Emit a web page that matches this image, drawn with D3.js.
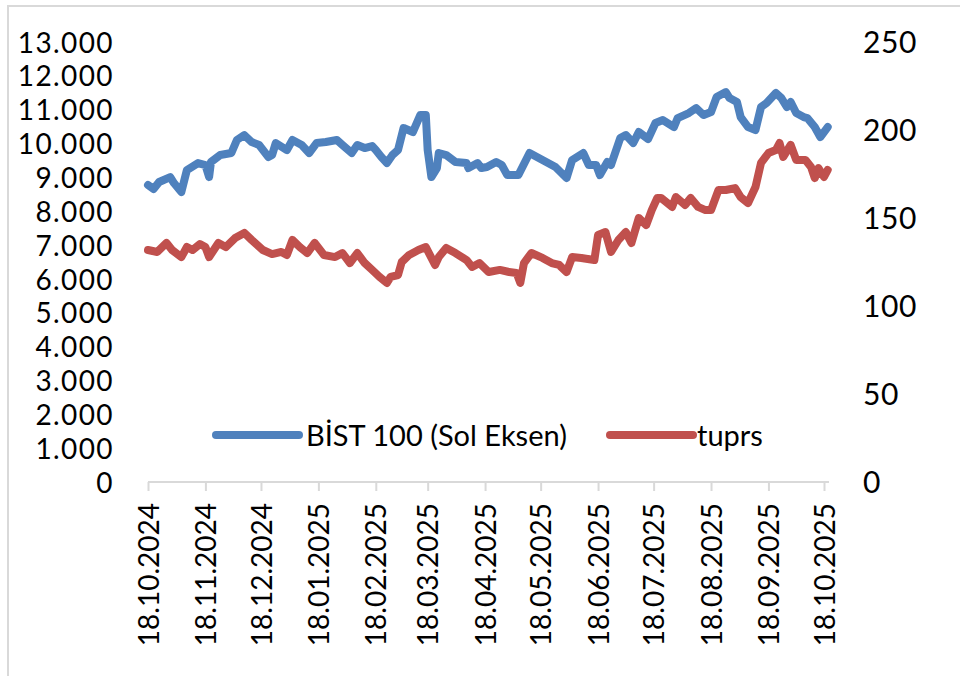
<!DOCTYPE html>
<html><head><meta charset="utf-8">
<script src="https://cdn.jsdelivr.net/npm/d3@7"></script>
<style>body{margin:0;background:#fff;}svg{display:block;font-family:Lato,"Open Sans",sans-serif;}</style>
</head><body>
<svg id="c" width="960" height="676"></svg>
<script>
const bistDates = ["2024-10-18","2024-10-21","2024-10-24","2024-10-30","2024-11-01","2024-11-05","2024-11-08","2024-11-14","2024-11-18","2024-11-20","2024-11-21","2024-11-26","2024-12-02","2024-12-05","2024-12-09","2024-12-13","2024-12-17","2024-12-22","2024-12-24","2024-12-26","2025-01-01","2025-01-04","2025-01-09","2025-01-13","2025-01-17","2025-01-22","2025-01-28","2025-01-31","2025-02-05","2025-02-08","2025-02-12","2025-02-16","2025-02-18","2025-02-21","2025-02-24","2025-02-27","2025-03-02","2025-03-05","2025-03-10","2025-03-14","2025-03-17","2025-03-18","2025-03-20","2025-03-23","2025-03-24","2025-03-28","2025-04-02","2025-04-08","2025-04-09","2025-04-14","2025-04-16","2025-04-19","2025-04-24","2025-04-27","2025-04-30","2025-05-06","2025-05-12","2025-05-16","2025-05-21","2025-05-26","2025-06-01","2025-06-04","2025-06-10","2025-06-13","2025-06-17","2025-06-19","2025-06-23","2025-06-25","2025-06-30","2025-07-03","2025-07-07","2025-07-10","2025-07-15","2025-07-19","2025-07-23","2025-07-29","2025-07-31","2025-08-06","2025-08-10","2025-08-14","2025-08-18","2025-08-21","2025-08-26","2025-08-28","2025-09-01","2025-09-03","2025-09-07","2025-09-11","2025-09-14","2025-09-17","2025-09-22","2025-09-25","2025-09-28","2025-09-30","2025-10-03","2025-10-07","2025-10-09","2025-10-13","2025-10-16","2025-10-20"];
const bistValues = [8774,8656,8863,9010,8833,8567,9217,9424,9365,9010,9454,9660,9719,10103,10251,10044,9956,9601,9660,10015,9808,10103,9956,9719,10015,10044,10103,9956,9719,9956,9867,9926,9808,9601,9424,9660,9808,10458,10340,10842,10842,9808,9010,9276,9719,9660,9454,9424,9276,9424,9276,9306,9454,9365,9069,9069,9719,9601,9454,9306,8981,9513,9719,9365,9365,9069,9454,9365,10162,10251,10015,10340,10133,10606,10694,10487,10753,10901,11049,10842,10931,11374,11521,11344,11226,10783,10487,10399,11078,11196,11492,11344,11078,11226,10901,10783,10753,10487,10192,10487];

const tuprsDates = ["2024-10-18","2024-10-23","2024-10-28","2024-10-31","2024-11-05","2024-11-08","2024-11-11","2024-11-15","2024-11-18","2024-11-20","2024-11-25","2024-11-29","2024-12-04","2024-12-09","2024-12-13","2024-12-19","2024-12-24","2024-12-29","2025-01-01","2025-01-04","2025-01-08","2025-01-12","2025-01-16","2025-01-21","2025-01-27","2025-01-31","2025-02-04","2025-02-08","2025-02-12","2025-02-16","2025-02-20","2025-02-24","2025-02-26","2025-03-02","2025-03-04","2025-03-08","2025-03-13","2025-03-17","2025-03-22","2025-03-24","2025-03-28","2025-04-02","2025-04-08","2025-04-11","2025-04-15","2025-04-20","2025-04-26","2025-05-01","2025-05-05","2025-05-07","2025-05-09","2025-05-13","2025-05-19","2025-05-24","2025-05-28","2025-06-01","2025-06-04","2025-06-09","2025-06-16","2025-06-18","2025-06-22","2025-06-25","2025-06-29","2025-07-03","2025-07-06","2025-07-10","2025-07-14","2025-07-17","2025-07-20","2025-07-22","2025-07-28","2025-07-30","2025-08-04","2025-08-07","2025-08-11","2025-08-15","2025-08-18","2025-08-22","2025-08-26","2025-08-31","2025-09-03","2025-09-07","2025-09-11","2025-09-14","2025-09-18","2025-09-22","2025-09-24","2025-09-26","2025-09-30","2025-10-03","2025-10-08","2025-10-11","2025-10-13","2025-10-15","2025-10-18","2025-10-20"];
const tuprsValues = [131.8,130.7,135.8,131.8,127.8,133.5,131.8,135.2,133.5,127.8,135.8,133.5,138.6,141.5,137.5,131.8,129.5,130.7,129.0,137.5,133.5,130.1,135.8,129.0,127.8,130.1,124.4,130.1,124.4,120.5,116.5,113.1,116.5,117.6,125.0,129.0,131.8,133.5,123.3,127.8,133.0,130.1,126.1,122.2,124.4,119.3,120.5,119.3,118.8,113.1,124.4,130.1,127.3,124.4,123.3,119.3,127.8,127.3,126.1,140.3,142.0,130.7,137.5,142.0,135.8,150.0,146.0,154.5,161.4,161.4,156.3,161.9,157.4,161.4,156.3,154.5,154.5,165.9,165.9,167.0,161.9,158.5,167.6,181.3,186.9,188.6,192.6,184.7,191.5,183.0,183.0,179.0,172.7,178.4,173.3,177.3];

const leftTicks = [0,1000,2000,3000,4000,5000,6000,7000,8000,9000,10000,11000,12000,13000];
const rightTicks = [0,50,100,150,200,250];
const xTickDates = ["2024-10-18","2024-11-18","2024-12-18","2025-01-18","2025-02-18","2025-03-18","2025-04-18","2025-05-18","2025-06-18","2025-07-18","2025-08-18","2025-09-18","2025-10-18"];
const seriesNames = ["BİST 100 (Sol Eksen)","tuprs"];
const seriesColors = ["#4F81BD","#C0504D"];

const parse = d3.timeParse("%Y-%m-%d");
const svg = d3.select("#c");

// frame
svg.append("rect").attr("x",8).attr("y",6).attr("width",980).attr("height",700)
  .attr("fill","none").attr("stroke","#d9d9d9").attr("stroke-width",2);

const x = d3.scaleTime().domain([parse("2024-10-18"), parse("2025-10-18")]).range([148,824]);
const yL = d3.scaleLinear().domain([0,13000]).range([482,42]);
const yR = d3.scaleLinear().domain([0,250]).range([482,42]);

const loc = d3.formatLocale({decimal:",", thousands:".", grouping:[3], currency:["","TL"]});
const fmt = loc.format(",d");

// left axis
const gl = svg.append("g").attr("transform","translate(114,0)")
  .call(d3.axisLeft(yL).tickValues(leftTicks).tickFormat(fmt).tickSize(0).tickPadding(0));
gl.select(".domain").remove();
gl.selectAll("text").attr("font-family","Lato").attr("font-size",28).attr("letter-spacing","1.4px")
  .attr("fill","#000").attr("dy","0.36em");

// right axis
const gr = svg.append("g").attr("transform","translate(863,0)")
  .call(d3.axisRight(yR).tickValues(rightTicks).tickSize(0).tickPadding(0));
gr.select(".domain").remove();
gr.selectAll("text").attr("font-family","Lato").attr("font-size",30).attr("letter-spacing","0.6px")
  .attr("fill","#000").attr("dy","0.36em");

// x axis
const gx = svg.append("g").attr("transform","translate(0,482)")
  .call(d3.axisBottom(x).tickValues(xTickDates.map(parse)).tickFormat(d3.timeFormat("%d.%m.%Y")).tickSize(9).tickSizeOuter(0));
gx.select(".domain").attr("stroke","#d9d9d9").attr("stroke-width",2).attr("d","M148,0H829");
gx.selectAll(".tick line").attr("stroke","#d9d9d9").attr("stroke-width",2);
gx.selectAll(".tick text").attr("font-family","Lato").attr("font-size",28).attr("fill","#000")
  .attr("text-anchor","end").attr("transform","rotate(-90)").attr("x",-21).attr("y",0).attr("dy","0.36em");

// lines
const bist = bistDates.map((d,i)=>({d:parse(d), v:bistValues[i]}));
const tup = tuprsDates.map((d,i)=>({d:parse(d), v:tuprsValues[i]}));
svg.append("path").datum(bist).attr("fill","none").attr("stroke",seriesColors[0]).attr("stroke-width",8)
  .attr("stroke-linejoin","round").attr("stroke-linecap","round")
  .attr("d", d3.line().x(p=>x(p.d)).y(p=>yL(p.v)));
svg.append("path").datum(tup).attr("fill","none").attr("stroke",seriesColors[1]).attr("stroke-width",8)
  .attr("stroke-linejoin","round").attr("stroke-linecap","round")
  .attr("d", d3.line().x(p=>x(p.d)).y(p=>yR(p.v)));

// legend
const leg = [{x0:216,x1:299,tx:306},{x0:610,x1:693,tx:697}];
leg.forEach((l,i)=>{
  svg.append("line").attr("x1",l.x0).attr("x2",l.x1).attr("y1",435).attr("y2",435)
    .attr("stroke",seriesColors[i]).attr("stroke-width",8).attr("stroke-linecap","round");
  svg.append("text").attr("x",l.tx).attr("y",446).attr("font-family","Lato").attr("font-size",29)
    .attr("fill","#000").text(seriesNames[i]);
});
</script>
</body></html>
